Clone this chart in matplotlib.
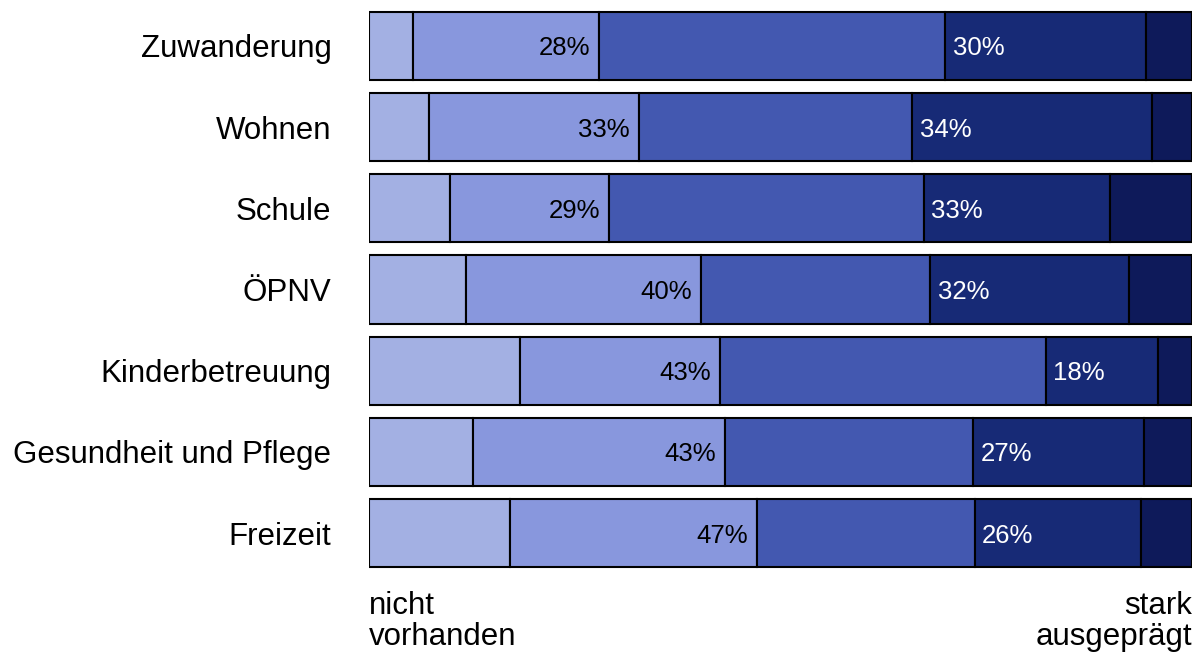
import numpy as np
import matplotlib
matplotlib.use('Agg')
import matplotlib.pyplot as plt

plt.rcParams['font.family'] = ['Liberation Sans', 'DejaVu Sans']

# categories, top to bottom
categories = ['Zuwanderung', 'Wohnen', 'Schule', 'ÖPNV',
              'Kinderbetreuung', 'Gesundheit und Pflege', 'Freizeit']

# shares (%) per level, from "nicht vorhanden" to "stark ausgeprägt"
level1 = [5.3, 7.3, 9.8, 11.8, 18.3, 12.6, 17.1]
level2 = [22.7, 25.5, 19.4, 28.5, 24.3, 30.7, 30.0]
level3 = [42.0, 33.2, 38.2, 27.9, 39.6, 30.1, 26.5]
level4 = [24.4, 29.1, 22.6, 24.2, 13.7, 20.8, 20.2]
level5 = [5.6, 4.9, 10.0, 7.6, 4.1, 5.8, 6.2]

colors = ['#a3b0e3', '#8897dd', '#4358b0', '#172a76', '#0e1a5a']

levels = np.array([level1, level2, level3, level4, level5])
y = np.arange(len(categories))

fig = plt.figure(figsize=(11.96, 6.56), dpi=100)
ax = fig.add_axes([0.3085, 0.1256, 0.6882, 0.8662])

left = np.zeros(len(categories))
for vals, c in zip(levels, colors):
    ax.barh(y, vals, left=left, height=0.84, color=c,
            edgecolor='black', linewidth=1.5)
    left += vals

# low share (levels 1+2) and high share (levels 4+5)
low = levels[0] + levels[1]
high = levels[3] + levels[4]
for i in range(len(categories)):
    ax.text(low[i] - 1.1, y[i], '%d%%' % round(low[i]), ha='right',
            va='center_baseline', fontsize=18.5, color='black')
    ax.text(low[i] + levels[2][i] + 0.9, y[i], '%d%%' % round(high[i]),
            ha='left', va='center_baseline', fontsize=18.5, color='white')

ax.set_xlim(0, 100)
ax.set_ylim(len(categories) - 0.5, -0.5)
ax.set_yticks(y)
ax.set_yticklabels(categories, fontsize=22.5)
ax.tick_params(axis='y', length=0, pad=27)
ax.set_xticks([])
for s in ax.spines.values():
    s.set_visible(False)

fig.text(0.3085, 0.099, 'nicht\nvorhanden', ha='left', va='top',
         fontsize=22.5, linespacing=1.05)
fig.text(0.9967, 0.099, 'stark\nausgeprägt', ha='right', va='top',
         fontsize=22.5, linespacing=1.05)

fig.savefig('out.png', dpi=100)
